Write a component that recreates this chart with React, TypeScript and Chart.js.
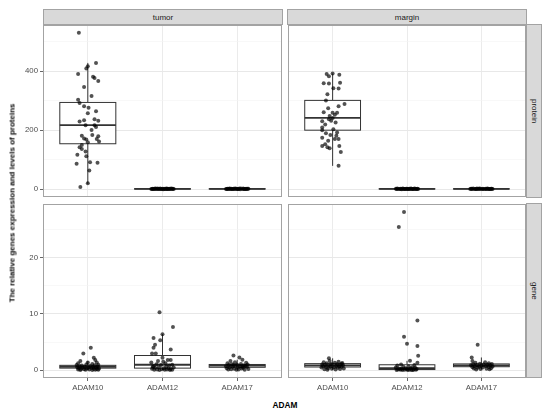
import { useEffect, useRef } from "react";
import { Chart, registerables } from "chart.js";

Chart.register(...registerables);

const categories = ["ADAM10", "ADAM12", "ADAM17"];
const tissues = ["tumor", "margin"];
const measures = ["protein", "gene"];

// jittered observations: [jitter offset, value]
const tumorProteinADAM10 = [
  [-0.12, 530], [0, 417], [-0.02, 409], [0.11, 428], [-0.13, 390], [0.07, 381], [0.09, 377], [0.14, 367],
  [-0.05, 346], [0.05, 316], [-0.13, 303], [-0.11, 292], [-0.05, 281], [0.01, 276], [0.11, 264], [0, 257],
  [-0.05, 234], [-0.11, 229], [0.09, 237], [0.14, 232], [-0.03, 217], [0.09, 217], [0.11, 211], [0.05, 201],
  [0.06, 184], [-0.08, 181], [0.14, 179], [-0.05, 172], [-0.02, 168], [0.12, 170], [0.15, 162], [0, 159],
  [-0.08, 150], [-0.11, 142], [-0.08, 136], [-0.03, 128], [-0.14, 117], [-0.02, 112], [-0.15, 86], [0.03, 91],
  [0.13, 90], [0.02, 63], [0, 20], [-0.1, 7],
];
const tumorProteinADAM12 = [
  [-0.15, 0.8], [0.09, 1.7], [-0.11, 0.4], [0.03, 0.6], [-0.1, 2.2], [0.14, 1.5], [-0.08, 0.2], [0.01, 0.1],
  [-0.07, 1.9], [0.12, 2.0], [-0.06, 0.7], [0.05, 2.4], [-0.05, 1.3], [0.1, 0.4], [-0.04, 0.3], [0.07, 1.2],
  [-0.03, 2.6], [0.15, 0.2], [-0.02, 0.9], [0.04, 1.0], [-0.01, 0.5], [0.11, 1.1], [0, 1.4], [-0.13, 1.6],
  [0.02, 1.8], [-0.09, 1.1], [0.13, 0.6], [0.06, 0.3], [-0.12, 1.0], [0.08, 0.8], [-0.14, 0.5], [0.06, 1.6],
];
const tumorProteinADAM17 = [
  [0.12, 1.1], [-0.14, 0.9], [0.03, 2.1], [-0.06, 0.4], [0.1, 0.3], [-0.11, 1.8], [0.07, 0.7], [-0.02, 1.2],
  [0.15, 1.5], [-0.09, 0.2], [0.01, 0.8], [-0.13, 1.3], [0.05, 2.5], [-0.04, 0.6], [0.13, 0.5], [-0.07, 1.0],
  [0.08, 1.9], [-0.15, 0.3], [0, 0.9], [-0.1, 2.3], [0.11, 0.8], [-0.01, 1.6], [0.04, 0.1], [-0.12, 0.7],
  [0.14, 1.2], [-0.05, 1.4], [0.02, 0.5], [-0.08, 1.1], [0.09, 0.4], [-0.03, 2.0],
];
const marginProteinADAM10 = [
  [-0.08, 390], [-0.05, 383], [0, 392], [0.09, 388], [-0.12, 359], [-0.05, 358], [0.1, 361], [0.08, 341],
  [0.01, 342], [-0.07, 322], [-0.09, 301], [0.16, 289], [0.08, 281], [-0.06, 274], [-0.12, 261], [0, 259],
  [0.06, 259], [0.03, 252], [-0.04, 248], [0, 241], [-0.05, 237], [-0.02, 232], [-0.14, 230], [-0.1, 219],
  [0.04, 226], [-0.14, 209], [-0.14, 200], [0.01, 203], [0.06, 192], [-0.09, 190], [-0.03, 184], [0.05, 181],
  [-0.14, 174], [0.08, 170], [-0.06, 164], [0.03, 170], [-0.14, 146], [-0.1, 152], [-0.07, 142], [-0.04, 139],
  [0.09, 146], [0.11, 126], [0.08, 79],
];
const marginProteinADAM12 = [
  [-0.12, 0.6], [0.06, 1.4], [-0.04, 0.2], [0.13, 0.9], [-0.09, 1.7], [0.02, 0.4], [0.1, 2.2], [-0.15, 1.1],
  [0.04, 0.7], [-0.06, 2.4], [0.15, 0.3], [-0.01, 1.2], [0.08, 0.5], [-0.13, 1.9], [0.01, 0.8], [-0.07, 0.1],
  [0.11, 1.6], [-0.03, 1.0], [0.05, 2.0], [-0.1, 0.4], [0.14, 1.3], [-0.02, 0.6], [0.07, 0.9], [-0.14, 0.3],
  [0.03, 1.5], [-0.08, 0.8], [0.12, 0.2], [0, 1.1], [-0.05, 1.8], [0.09, 0.6],
];
const marginProteinADAM17 = [
  [0.05, 0.9], [-0.13, 1.4], [0.11, 0.3], [-0.02, 2.1], [0.14, 1.2], [-0.08, 0.5], [0.02, 1.7], [-0.15, 0.8],
  [0.08, 2.5], [-0.05, 0.2], [0.12, 1.0], [-0.11, 1.9], [0.01, 0.6], [-0.03, 1.3], [0.15, 0.7], [-0.09, 0.4],
  [0.06, 1.5], [-0.14, 1.1], [0.03, 0.3], [-0.06, 2.2], [0.1, 0.8], [-0.01, 1.0], [0.13, 1.8], [-0.12, 0.6],
  [0.07, 0.4], [-0.04, 1.6], [0.09, 1.2], [-0.07, 0.9],
];
const tumorGeneADAM10 = [
  [0.04, 4.0], [-0.06, 2.95], [0.08, 2.2], [-0.1, 1.6], [0.1, 1.8], [0, 1.35], [0.12, 1.35], [-0.13, 1.2],
  [0.06, 1.1], [-0.02, 1.0], [0.14, 0.95], [-0.15, 0.9], [0.09, 0.85], [-0.08, 0.8], [0.03, 0.75], [-0.11, 0.7],
  [0.13, 0.65], [-0.04, 0.6], [0.07, 0.55], [-0.14, 0.5], [0.01, 0.48], [0.11, 0.45], [-0.07, 0.4], [0.05, 0.38],
  [-0.12, 0.35], [0.15, 0.3], [-0.01, 0.28], [0.08, 0.25], [-0.09, 0.2], [0.12, 0.18], [-0.05, 0.15], [0.02, 0.12],
  [-0.13, 0.1], [0.1, 0.08], [-0.03, 0.05], [0.14, 0.04], [-0.1, 0.03], [0.06, 0.02],
];
const tumorGeneADAM12 = [
  [-0.04, 10.3], [0.14, 7.7], [0, 6.4], [-0.12, 5.7], [-0.03, 5.3], [-0.1, 4.5], [-0.12, 4.0], [0.11, 3.65],
  [-0.14, 2.95], [-0.09, 2.95], [0, 2.2], [0.07, 1.8], [0.11, 1.8], [-0.06, 1.6], [-0.15, 1.35], [0.04, 1.2],
  [-0.08, 1.05], [0.13, 0.95], [-0.02, 0.9], [0.09, 0.8], [-0.12, 0.7], [0.05, 0.6], [-0.05, 0.5], [0.15, 0.45],
  [-0.1, 0.4], [0.02, 0.35], [0.08, 0.3], [-0.14, 0.25], [0.11, 0.2], [-0.01, 0.15], [0.06, 0.12], [-0.07, 0.1],
  [0.13, 0.08], [-0.11, 0.05], [0.03, 0.04], [-0.04, 0.02], [0.1, 0.02], [-0.13, 0.6], [0.01, 1.5],
];
const tumorGeneADAM17 = [
  [-0.05, 2.6], [0.03, 2.25], [0.07, 1.85], [-0.09, 1.6], [-0.03, 1.4], [0.12, 1.3], [-0.13, 1.2], [0.05, 1.1],
  [-0.07, 1.05], [0.14, 1.0], [0, 0.95], [-0.11, 0.9], [0.09, 0.85], [-0.02, 0.8], [0.11, 0.75], [-0.15, 0.7],
  [0.04, 0.65], [-0.06, 0.6], [0.13, 0.55], [-0.1, 0.5], [0.01, 0.45], [0.08, 0.4], [-0.14, 0.35], [0.06, 0.3],
  [-0.04, 0.25], [0.15, 0.2], [-0.08, 0.15], [0.02, 0.12], [-0.12, 0.1], [0.1, 0.08], [-0.01, 0.05], [0.07, 0.6],
  [-0.05, 0.9],
];
const marginGeneADAM10 = [
  [-0.05, 2.1], [0.08, 1.5], [-0.12, 1.4], [0.03, 1.3], [-0.08, 1.2], [0.12, 1.15], [-0.02, 1.1], [0.06, 1.05],
  [-0.14, 1.0], [0.1, 0.95], [0, 0.9], [-0.1, 0.88], [0.14, 0.85], [-0.05, 0.8], [0.05, 0.78], [-0.13, 0.75],
  [0.09, 0.7], [-0.03, 0.65], [0.12, 0.6], [-0.09, 0.55], [0.02, 0.5], [-0.15, 0.45], [0.07, 0.4], [-0.06, 0.35],
  [0.15, 0.3], [-0.01, 0.25], [0.1, 0.2], [-0.11, 0.15], [0.04, 0.1], [-0.07, 0.05], [0.13, 1.25], [-0.04, 1.6],
];
const marginGeneADAM12 = [
  [-0.04, 28.2], [-0.11, 25.5], [0.14, 8.85], [-0.04, 5.95], [0, 4.7], [0.14, 4.3], [0.15, 2.55], [0.04, 1.65],
  [0.14, 1.3], [-0.08, 1.0], [0.1, 0.9], [-0.13, 0.8], [0.02, 0.7], [-0.05, 0.6], [0.07, 0.5], [-0.15, 0.45],
  [0.11, 0.4], [-0.02, 0.35], [0.05, 0.3], [-0.1, 0.25], [0.13, 0.2], [-0.07, 0.18], [0, 0.15], [0.09, 0.12],
  [-0.12, 0.1], [0.03, 0.08], [-0.03, 0.06], [0.12, 0.05], [-0.09, 0.04], [0.06, 0.03], [-0.14, 0.02], [0.01, 0.02],
  [0.08, 0.01], [-0.06, 0.01],
];
const marginGeneADAM17 = [
  [-0.05, 4.5], [-0.13, 2.25], [-0.12, 1.6], [0.05, 1.4], [-0.08, 1.3], [0.1, 1.2], [-0.02, 1.15], [0.14, 1.1],
  [-0.11, 1.05], [0.03, 1.0], [0.08, 0.95], [-0.06, 0.9], [0.12, 0.88], [-0.14, 0.85], [0, 0.8], [0.06, 0.75],
  [-0.09, 0.7], [0.15, 0.65], [-0.03, 0.6], [0.1, 0.55], [-0.12, 0.5], [0.02, 0.45], [-0.05, 0.4], [0.13, 0.35],
  [-0.1, 0.3], [0.07, 0.25], [-0.01, 0.2], [0.11, 0.15], [-0.07, 0.1],
];

// box stats per category: [lower whisker, q1, median, q3, upper whisker]
const tumorProteinBoxes = [[18, 154, 217, 294, 428], [0.1, 0.6, 1.0, 1.5, 2.6], [0.1, 0.6, 1.0, 1.5, 2.5]];
const marginProteinBoxes = [[79, 200, 242, 301, 392], [0.1, 0.6, 0.9, 1.5, 2.4], [0.2, 0.6, 1.0, 1.5, 2.5]];
const tumorGeneBoxes = [[0.02, 0.35, 0.6, 0.85, 1.6], [0.02, 0.35, 0.95, 2.6, 6.4], [0.05, 0.5, 0.8, 1.0, 1.85]];
const marginGeneBoxes = [[0.05, 0.55, 0.85, 1.15, 2.1], [0.01, 0.1, 0.35, 0.95, 1.65], [0.1, 0.6, 0.85, 1.1, 2.25]];

const proteinTicks = [0, 100, 200, 300, 400, 500];
const proteinLabels = [0, 200, 400];
const geneTicks = [0, 5, 10, 15, 20, 25];
const geneLabels = [0, 10, 20];

const FONT = "'Liberation Sans', Arial, Helvetica, sans-serif";

type Pt = number[];

interface PanelProps {
  left: number;
  top: number;
  width: number;
  height: number;
  padding: { top: number; right: number; bottom: number; left: number };
  yAxisW: number;
  xAxisH: number;
  showX: boolean;
  showY: boolean;
  groups: Pt[][];
  boxes: number[][];
  yMin: number;
  yMax: number;
  yTicks: number[];
  yLabels: number[];
}

function Panel(p: PanelProps) {
  const ref = useRef<HTMLCanvasElement>(null);

  useEffect(() => {
    if (!ref.current) return;
    const pts = p.groups.flatMap((g, i) => g.map(([j, v]) => ({ x: i + 1 + j, y: v })));
    const isMajor = (v: number) => p.yLabels.includes(v);

    const boxPlugin = {
      id: "boxes",
      beforeDatasetsDraw(chart: any) {
        const { ctx, scales } = chart;
        const x = scales.x;
        const y = scales.y;
        ctx.save();
        p.boxes.forEach((b, i) => {
          const c = i + 1;
          const xl = x.getPixelForValue(c - 0.375);
          const xr = x.getPixelForValue(c + 0.375);
          const xc = x.getPixelForValue(c);
          const [lo, q1, med, q3, hi] = b.map((v) => y.getPixelForValue(v));
          ctx.strokeStyle = "#333333";
          ctx.lineWidth = 1;
          ctx.beginPath();
          ctx.moveTo(xc, q3);
          ctx.lineTo(xc, hi);
          ctx.moveTo(xc, q1);
          ctx.lineTo(xc, lo);
          ctx.stroke();
          ctx.fillStyle = "#ffffff";
          ctx.fillRect(xl, q3, xr - xl, q1 - q3);
          ctx.strokeRect(xl, q3, xr - xl, q1 - q3);
          ctx.lineWidth = 1.8;
          ctx.beginPath();
          ctx.moveTo(xl, med);
          ctx.lineTo(xr, med);
          ctx.stroke();
        });
        ctx.restore();
      },
    };

    const framePlugin = {
      id: "frame",
      afterDraw(chart: any) {
        const { ctx, chartArea: a } = chart;
        ctx.save();
        ctx.strokeStyle = "#a3a3a3";
        ctx.lineWidth = 1;
        ctx.strokeRect(a.left + 0.5, a.top + 0.5, a.right - a.left - 1, a.bottom - a.top - 1);
        ctx.restore();
      },
    };

    const chart = new Chart(ref.current, {
      type: "scatter",
      data: {
        datasets: [
          {
            data: pts,
            backgroundColor: "rgba(0,0,0,0.68)",
            borderWidth: 0,
            pointRadius: 2,
            pointHoverRadius: 2,
          },
        ],
      },
      options: {
        animation: false,
        responsive: false,
        maintainAspectRatio: false,
        events: [],
        layout: { padding: p.padding },
        plugins: { legend: { display: false }, tooltip: { enabled: false } },
        scales: {
          x: {
            type: "linear",
            min: 0.4,
            max: 3.6,
            afterBuildTicks: (s: any) => {
              s.ticks = [1, 2, 3].map((value) => ({ value }));
            },
            afterFit: (s: any) => {
              s.height = p.xAxisH;
              s.paddingLeft = 0;
              s.paddingRight = 0;
            },
            border: { display: false },
            grid: {
              color: "#ebebeb",
              lineWidth: 1,
              drawTicks: p.showX,
              tickLength: 3,
              tickColor: "#666666",
            },
            ticks: {
              display: p.showX,
              padding: 2,
              autoSkip: false,
              maxRotation: 0,
              color: "#4d4d4d",
              font: { family: FONT, size: 7.8 },
              callback: (v: any) => categories[Number(v) - 1] ?? "",
            },
          },
          y: {
            type: "linear",
            min: p.yMin,
            max: p.yMax,
            afterBuildTicks: (s: any) => {
              s.ticks = p.yTicks.map((value) => ({ value }));
            },
            afterFit: (s: any) => {
              s.width = p.yAxisW;
              s.paddingTop = 0;
              s.paddingBottom = 0;
            },
            border: { display: false },
            grid: {
              color: (c: any) => (c.tick && isMajor(c.tick.value) ? "#e8e8e8" : "#f3f3f3"),
              lineWidth: (c: any) => (c.tick && isMajor(c.tick.value) ? 1 : 0.6),
              drawTicks: p.showY,
              tickLength: 3,
              tickColor: (c: any) => (c.tick && isMajor(c.tick.value) ? "#666666" : "rgba(0,0,0,0)"),
            },
            ticks: {
              display: p.showY,
              padding: 2,
              autoSkip: false,
              color: "#4d4d4d",
              font: { family: FONT, size: 7.8 },
              callback: (v: any) => (isMajor(Number(v)) ? String(v) : ""),
            },
          },
        },
      },
      plugins: [boxPlugin, framePlugin],
    });

    return () => chart.destroy();
  }, []);

  return (
    <canvas
      ref={ref}
      width={p.width}
      height={p.height}
      style={{ position: "absolute", left: p.left, top: p.top, width: p.width, height: p.height }}
    />
  );
}

const stripStyle: any = {
  position: "absolute",
  boxSizing: "border-box",
  background: "#d9d9d9",
  border: "1px solid #a3a3a3",
  color: "#1a1a1a",
  fontFamily: FONT,
  fontSize: 8,
  display: "flex",
  alignItems: "center",
  justifyContent: "center",
};

export default function App() {
  return (
    <div style={{ position: "absolute", left: 0, top: 0, width: 550, height: 413, background: "#fff", overflow: "hidden" }}>
      <Panel
        left={0} top={23} width={284} height={176}
        padding={{ top: 1, right: 1, bottom: 1, left: 0 }}
        yAxisW={43} xAxisH={0} showX={false} showY={true}
        groups={[tumorProteinADAM10, tumorProteinADAM12, tumorProteinADAM17]}
        boxes={tumorProteinBoxes}
        yMin={-26.5} yMax={556.5} yTicks={proteinTicks} yLabels={proteinLabels}
      />
      <Panel
        left={286} top={23} width={242} height={176}
        padding={{ top: 1, right: 1, bottom: 1, left: 1 }}
        yAxisW={0} xAxisH={0} showX={false} showY={false}
        groups={[marginProteinADAM10, marginProteinADAM12, marginProteinADAM17]}
        boxes={marginProteinBoxes}
        yMin={-26.5} yMax={556.5} yTicks={proteinTicks} yLabels={proteinLabels}
      />
      <Panel
        left={0} top={202} width={284} height={192}
        padding={{ top: 1, right: 1, bottom: 0, left: 0 }}
        yAxisW={43} xAxisH={16} showX={true} showY={true}
        groups={[tumorGeneADAM10, tumorGeneADAM12, tumorGeneADAM17]}
        boxes={tumorGeneBoxes}
        yMin={-1.41} yMax={29.61} yTicks={geneTicks} yLabels={geneLabels}
      />
      <Panel
        left={286} top={202} width={242} height={192}
        padding={{ top: 1, right: 1, bottom: 0, left: 1 }}
        yAxisW={0} xAxisH={16} showX={true} showY={false}
        groups={[marginGeneADAM10, marginGeneADAM12, marginGeneADAM17]}
        boxes={marginGeneBoxes}
        yMin={-1.41} yMax={29.61} yTicks={geneTicks} yLabels={geneLabels}
      />

      <div style={{ ...stripStyle, left: 43, top: 9, width: 240, height: 16 }}>{tissues[0]}</div>
      <div style={{ ...stripStyle, left: 287, top: 9, width: 240, height: 16 }}>{tissues[1]}</div>
      <div style={{ ...stripStyle, left: 526, top: 24, width: 16, height: 174, writingMode: "vertical-rl" }}>{measures[0]}</div>
      <div style={{ ...stripStyle, left: 526, top: 203, width: 16, height: 175, writingMode: "vertical-rl" }}>{measures[1]}</div>

      <div
        style={{
          position: "absolute",
          left: 12,
          top: 203,
          transform: "translate(-50%, -50%) rotate(-90deg)",
          whiteSpace: "nowrap",
          fontFamily: FONT,
          fontWeight: "bold",
          fontSize: 8,
          color: "#000",
        }}
      >
        The relative genes expression and levels of proteins
      </div>
      <div
        style={{
          position: "absolute",
          left: 285,
          top: 405,
          transform: "translate(-50%, -50%)",
          whiteSpace: "nowrap",
          fontFamily: FONT,
          fontWeight: "bold",
          fontSize: 8.3,
          color: "#000",
        }}
      >
        ADAM
      </div>
    </div>
  );
}
